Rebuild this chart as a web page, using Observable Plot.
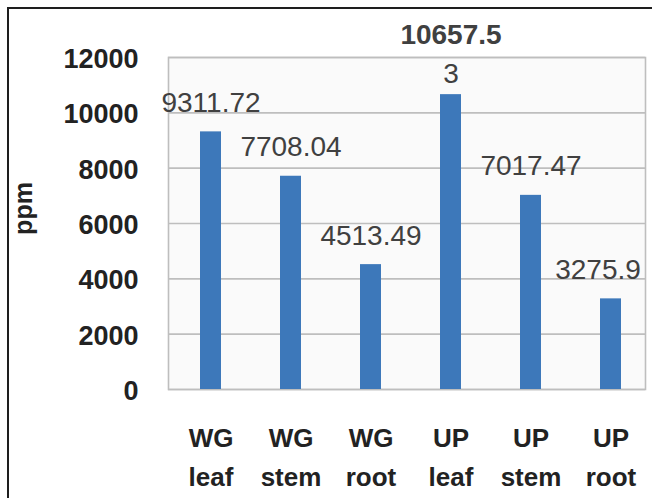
<!DOCTYPE html>
<html>
<head>
<meta charset="utf-8">
<script src="https://cdn.jsdelivr.net/npm/d3@7"></script>
<script src="https://cdn.jsdelivr.net/npm/@observablehq/plot@0.6"></script>
<style>
  html, body { margin: 0; padding: 0; background: #ffffff; }
  #wrap { position: relative; width: 652px; height: 498px; overflow: hidden; }
  #outer { position: absolute; left: 7px; top: 7px; width: 700px; height: 600px;
           border-left: 2px solid #1e1e1e; border-top: 2px solid #1e1e1e; pointer-events: none; }
</style>
</head>
<body>
<div id="wrap"><div id="outer"></div></div>
<script>
const groups = ["WG", "WG", "WG", "UP", "UP", "UP"];
const parts = ["leaf", "stem", "root", "leaf", "stem", "root"];
const values = [9311.72, 7708.04, 4513.49, 10657.53, 7017.47, 3275.9];
const valueLabels = ["9311.72", "7708.04", "4513.49", "10657.5\n3", "7017.47", "3275.9"];
const yTicks = [0, 2000, 4000, 6000, 8000, 10000, 12000];
const yTitle = "ppm";

const categories = groups.map((g, i) => `${g}\n${parts[i]}`);
const data = values.map((v, i) => ({cat: categories[i], value: v, label: valueLabels[i], i}));
const single = data.filter(d => !d.label.includes("\n"));
const multi = data.filter(d => d.label.includes("\n"));
const lastIndex = data.length - 1;

const labelFont = {fontSize: 28, fill: "#404040", lineAnchor: "bottom"};

const chart = Plot.plot({
  width: 652,
  height: 498,
  marginLeft: 168,
  marginRight: 7,
  marginTop: 57,
  marginBottom: 109,
  style: {fontFamily: "'Liberation Sans', Arial, sans-serif", color: "#222", background: "transparent", overflow: "visible"},
  x: {domain: categories, range: [168, 652], paddingInner: 0.74, paddingOuter: 0.37, label: null},
  y: {domain: [0, 12000], label: null},
  marks: [
    Plot.frame({fill: "#FAFAFA", stroke: null}),
    Plot.gridY(yTicks, {stroke: "#BEBEBE", strokeOpacity: 1, strokeWidth: 1.6}),
    Plot.frame({stroke: "#BEBEBE", strokeWidth: 1.6}),
    Plot.barY(data, {x: "cat", y: "value", fill: "#3D78BA"}),
    Plot.text(single.filter(d => d.i !== lastIndex), {x: "cat", y: "value", text: "label", dy: -20, ...labelFont}),
    Plot.text(single.filter(d => d.i === lastIndex), {x: "cat", y: "value", text: "label", dy: -20, dx: -13, ...labelFont}),
    Plot.text(multi, {x: "cat", y: "value", text: d => d.label.split("\n")[1], dy: -12, ...labelFont}),
    Plot.text(multi, {x: "cat", y: "value", text: d => d.label.split("\n")[0], dy: -51, ...labelFont, fontWeight: "bold"}),
    Plot.axisX({tickSize: 0, tickPadding: 29.5, fontSize: 26, fontWeight: "bold", lineHeight: 1.5, label: null}),
    Plot.axisY(yTicks, {tickSize: 0, tickPadding: 30, fontSize: 27, fontWeight: "bold", dy: 2, label: null, tickFormat: d => String(d)}),
    Plot.text([yTitle], {frameAnchor: "left", text: d => d, rotate: -90, dx: -137, dy: -15, textAnchor: "middle", lineAnchor: "bottom", fontSize: 25, fontWeight: "bold"})
  ]
});
document.getElementById("wrap").insertBefore(chart, document.getElementById("outer"));
</script>
</body>
</html>
